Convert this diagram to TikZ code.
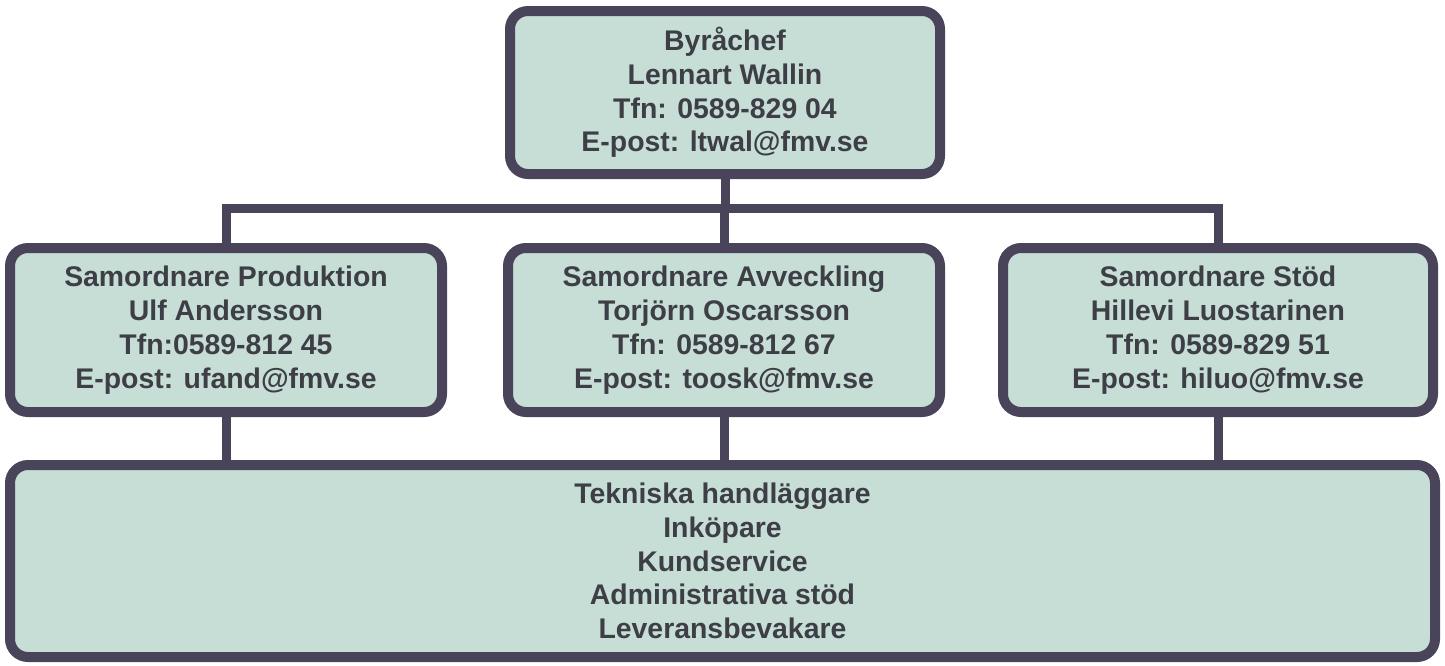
\documentclass[tikz,border=0pt]{standalone}
\usepackage{fontspec}
\setmainfont{Liberation Sans}
\definecolor{boxfill}{RGB}{198,222,213}
\definecolor{boxline}{RGB}{74,68,90}
\definecolor{txt}{RGB}{62,62,70}
\begin{document}
\begin{tikzpicture}[x=0.5pt,y=-0.5pt,
  orgbox/.style={draw=boxline, fill=boxfill, line width=5pt, rounded corners=9pt,
    align=center, text=txt, font=\bfseries\fontsize{14.2}{16.9}\selectfont,
    inner sep=0pt},
  link/.style={draw=boxline, line width=4.5pt}]
\useasboundingbox (0,0) rectangle (1445,665);
\node[orgbox, minimum width=215pt, minimum height=81.5pt] (top) at (725,92.5)
  {Byråchef\\Lennart Wallin\\Tfn: 0589-829 04\\E-post: ltwal@fmv.se};
\node[orgbox, minimum width=216pt, minimum height=82pt] (prod) at (226,330)
  {Samordnare Produktion\\Ulf Andersson\\Tfn:0589-812 45\\E-post: ufand@fmv.se};
\node[orgbox, minimum width=216pt, minimum height=82pt] (avv) at (724,330)
  {Samordnare Avveckling\\Torjörn Oscarsson\\Tfn: 0589-812 67\\E-post: toosk@fmv.se};
\node[orgbox, minimum width=215pt, minimum height=82pt] (stod) at (1218,330)
  {Samordnare Stöd\\Hillevi Luostarinen\\Tfn: 0589-829 51\\E-post: hiluo@fmv.se};
\coordinate (jn) at (724,208);
\path[link] (top.south) -- (top.south |- jn);
\path[link] ([xshift=-2.25pt]prod.north |- jn) -- ([xshift=2.25pt]stod.north |- jn);
\path[link] (prod.north |- jn) -- (prod.north);
\path[link] (avv.north |- jn) -- (avv.north);
\path[link] (stod.north |- jn) -- (stod.north);
\node[orgbox, minimum width=712.5pt, minimum height=96pt] (staff) at (722.5,561)
  {Tekniska handläggare\\Inköpare\\Kundservice\\Administrativa stöd\\Leveransbevakare};
\path[link] (prod.south) -- (prod.south |- staff.north);
\path[link] (avv.south) -- (avv.south |- staff.north);
\path[link] (stod.south) -- (stod.south |- staff.north);
\end{tikzpicture}
\end{document}
